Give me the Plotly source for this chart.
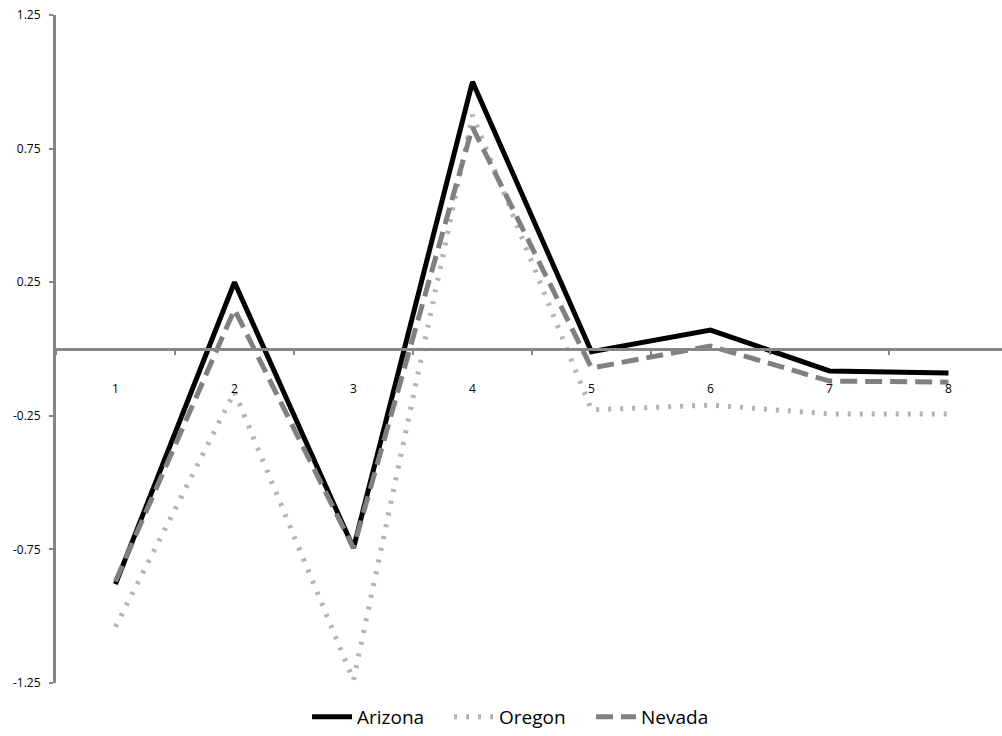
import plotly.graph_objects as go

categories = ["1", "2", "3", "4", "5", "6", "7", "8"]
arizona = [-0.88, 0.25, -0.745, 1.0, -0.01, 0.071, -0.082, -0.09]
oregon = [-1.04, -0.16, -1.24, 0.876, -0.228, -0.21, -0.243, -0.243]
nevada = [-0.87, 0.148, -0.745, 0.83, -0.071, 0.011, -0.12, -0.124]
ytick_vals = [-1.25, -0.75, -0.25, 0.25, 0.75, 1.25]
ytick_text = ["-1.25", "-0.75", "-0.25", "0.25", "0.75", "1.25"]

FONT = "Open Sans"
AXIS = "#868686"

fig = go.Figure()
fig.add_trace(go.Scatter(x=categories, y=arizona, name="Arizona", mode="lines",
                         line=dict(color="#000000", width=5)))
fig.add_trace(go.Scatter(x=categories, y=oregon, name="Oregon", mode="lines",
                         line=dict(color="#b3b3b3", width=5, dash="3px,9px")))
fig.add_trace(go.Scatter(x=categories, y=nevada, name="Nevada", mode="lines",
                         line=dict(color="#808080", width=5, dash="17px,8px")))

fig.update_layout(
    width=1002, height=736,
    margin=dict(l=56, r=0, t=15, b=53),
    paper_bgcolor="white", plot_bgcolor="white",
    font=dict(family=FONT, color="#000000", size=12),
    showlegend=True,
    legend=dict(orientation="h", xref="container", yref="container",
                x=0.519, xanchor="center", y=0.0, yanchor="bottom",
                font=dict(size=19, family=FONT), itemwidth=40,
                entrywidth=87, entrywidthmode="pixels",
                bgcolor="rgba(0,0,0,0)"),
    xaxis=dict(type="category", range=[-0.5, 7.45], anchor="free", position=0.5,
               showline=True, linecolor=AXIS, linewidth=2.5,
               ticks="outside", ticklen=4, tickcolor=AXIS, tickwidth=2,
               tickson="boundaries", showgrid=False, zeroline=False,
               automargin=False,
               ticklabelstandoff=28, tickfont=dict(size=12, family=FONT)),
    yaxis=dict(range=[-1.2502, 1.2502], tickvals=ytick_vals, ticktext=ytick_text,
               showline=True, linecolor=AXIS, linewidth=3,
               ticks="outside", ticklen=4, tickcolor=AXIS, tickwidth=2,
               automargin=False, ticklabelstandoff=6, ticklabeloverflow="allow",
               showgrid=False, zeroline=False, tickfont=dict(size=12, family=FONT)),
)

fig.write_html("out.html", config={"displayModeBar": False},
               post_script="document.body.style.margin='0';document.body.style.overflow='hidden';")
